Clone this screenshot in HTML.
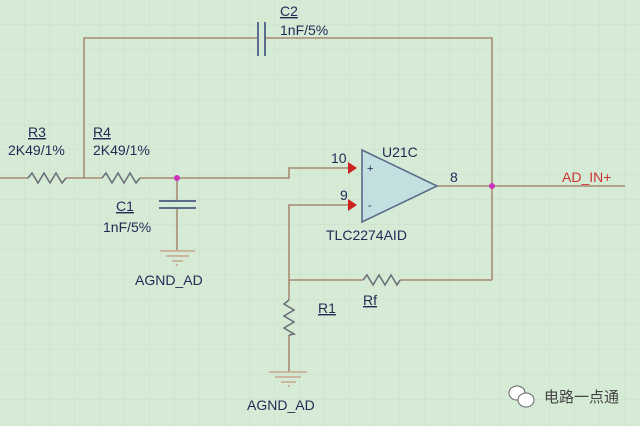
<!DOCTYPE html>
<html><head><meta charset="utf-8"><style>
html,body{margin:0;padding:0;}
body{width:640px;height:426px;overflow:hidden;background:#d5ebd6;}
svg{display:block;}
text{font-family:"Liberation Sans","Noto Sans CJK SC",sans-serif;font-size:14px;fill:#1f2a55;}
</style></head><body>
<svg width="640" height="426" viewBox="0 0 640 426">
<defs><pattern id="g" width="25" height="25" patternUnits="userSpaceOnUse"><path d="M25 0V25M0 25H25" stroke="#c8e0cb" stroke-width="1" fill="none"/></pattern></defs>
<rect width="640" height="426" fill="#d5ebd6"/>
<rect width="640" height="426" fill="url(#g)"/>
<g stroke="#a88a72" stroke-width="1.6" fill="none">
<path d="M84 178V38H258M265 38H492V280"/>
<path d="M0 178H28M66 178H102M140 178H289V168H355"/>
<path d="M28 178l4-5 6 10 6-10 6 10 6-10 6 10 4-5" stroke="#6b6f78"/>
<path d="M102 178l4-5 6 10 6-10 6 10 6-10 6 10 4-5" stroke="#6b6f78"/>
<path d="M177 178V201M177 208V250"/>
<path d="M355 205H289V300M289 335V372"/>
<path d="M289 300l-5 4 10 6-10 6 10 6-10 6 10 6-5 1" stroke="#6b6f78"/>
<path d="M289 280H363M400 280H492"/>
<path d="M363 280l4-5 6 10 6-10 6 10 6-10 6 10 3-5" stroke="#6b6f78"/>
<path d="M437 186H625"/>
</g>
<g stroke="#5b6b8c" stroke-width="2" fill="none">
<path d="M258 22V56M265 22V56"/>
<path d="M159 201H196M159 208H196"/>
</g>
<g stroke="#c9a58a" stroke-width="1.6">
<path d="M160 251H195M166 256H189M172 261H183M177 264v2"/>
<path d="M269 372H307M275 377H301M281 382H296M289 385v2"/>
</g>
<path d="M362 150L437 186L362 222Z" fill="#c3dfe0" stroke="#5b6b8c" stroke-width="1.6"/>
<path d="M348 162l9 6-9 6zM348 199l9 6-9 6z" fill="#cc2222"/>
<text x="367" y="172" style="font-size:11px">+</text>
<text x="368" y="209" style="font-size:11px">-</text>
<circle cx="177" cy="178" r="3" fill="#cc33bb"/>
<circle cx="492" cy="186" r="3" fill="#cc33bb"/>
<g>
<text x="280" y="16" text-decoration="underline">C2</text>
<text x="280" y="35">1nF/5%</text>
<text x="28" y="137" text-decoration="underline">R3</text>
<text x="8" y="155">2K49/1%</text>
<text x="93" y="137" text-decoration="underline">R4</text>
<text x="93" y="155">2K49/1%</text>
<text x="116" y="211" text-decoration="underline">C1</text>
<text x="103" y="232">1nF/5%</text>
<text x="135" y="285">AGND_AD</text>
<text x="247" y="410">AGND_AD</text>
<text x="382" y="157">U21C</text>
<text x="331" y="163">10</text>
<text x="340" y="200">9</text>
<text x="450" y="182">8</text>
<text x="326" y="240">TLC2274AID</text>
<text x="318" y="313" text-decoration="underline">R1</text>
<text x="363" y="305" text-decoration="underline">Rf</text>
<text x="562" y="182" style="fill:#cc3333">AD_IN+</text>
<text x="544" y="402" style="fill:#444;font-size:15px">电路一点通</text>
</g>
<g fill="#fff" stroke="#666" stroke-width="1"><ellipse cx="517" cy="393" rx="8" ry="7"/><ellipse cx="526" cy="400" rx="8" ry="7"/></g>
</svg>
</body></html>
